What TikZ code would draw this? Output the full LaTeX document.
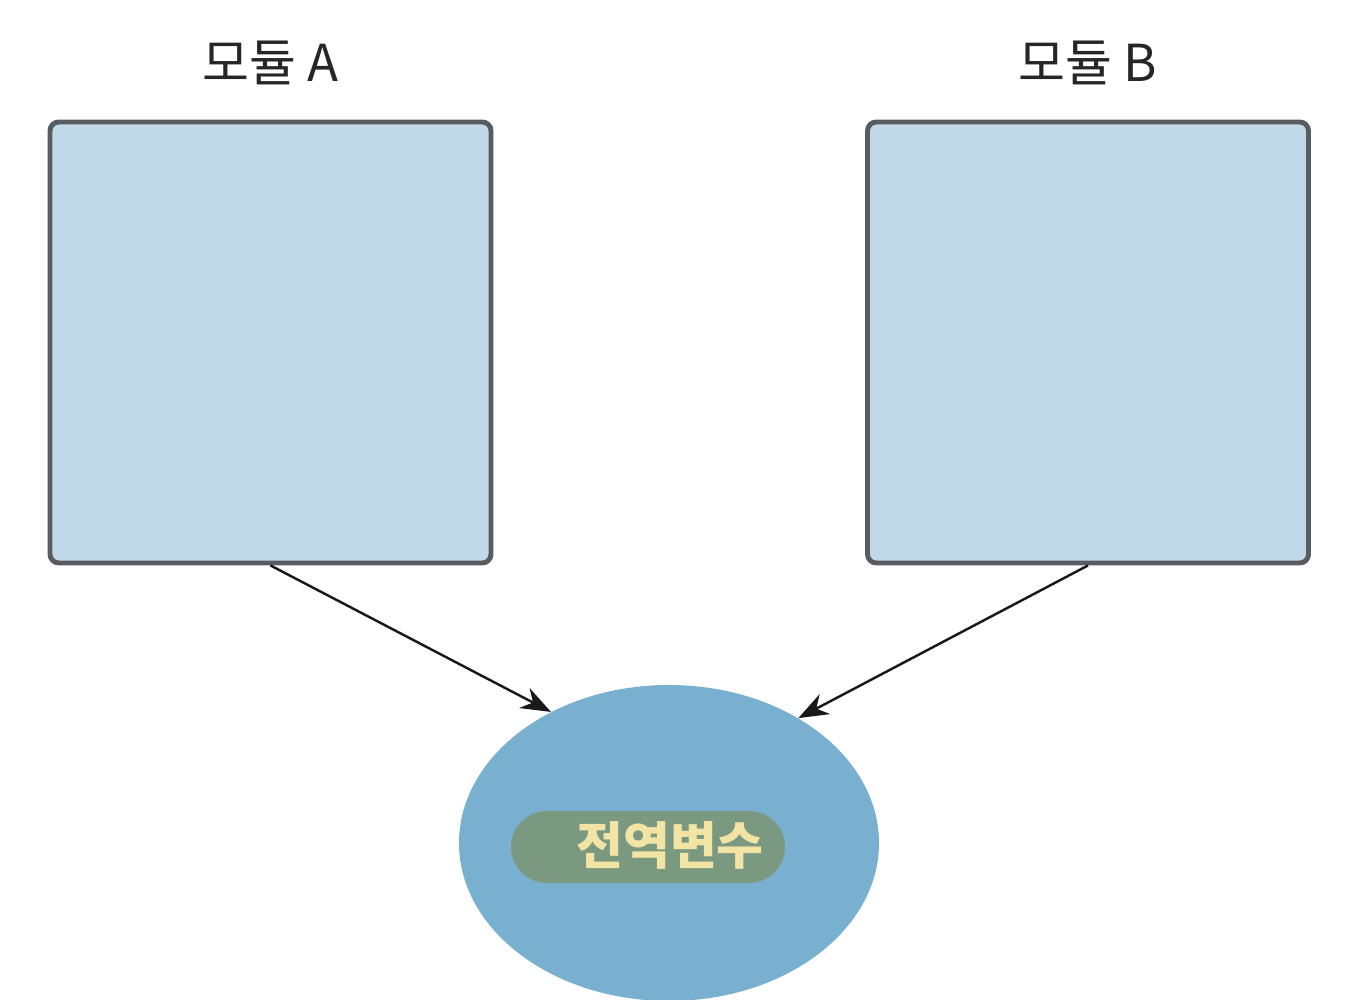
\documentclass[tikz,border=0pt]{standalone}
\usepackage{fontspec}
\setmainfont{Noto Sans CJK KR}
\usepackage{tikz}
\usetikzlibrary{arrows.meta, shapes.geometric, positioning}

\definecolor{boxblue}{RGB}{193,216,232}
\definecolor{boxline}{RGB}{88,92,97}
\definecolor{globblue}{RGB}{121,176,208}
\definecolor{pillgreen}{RGB}{122,153,128}
\definecolor{pilltext}{RGB}{242,228,165}

\tikzset{
    module/.style={draw=boxline, line width=2.8pt, fill=boxblue, rounded corners=5pt,
        minimum width=8.82cm, minimum height=8.82cm},
    modlabel/.style={font=\fontsize{29}{34}\selectfont, text=black!85},
    link/.style={-{Stealth[length=0.6cm, width=0.45cm]}, line width=1.4pt, black!90}
}

\begin{document}
\begin{tikzpicture}
    \useasboundingbox (0,0) rectangle (27.38,20);

    \node[module] (modA) at (5.41,13.15) {};
    \node[module] (modB) at (21.76,13.15) {};
    \node[modlabel] (labA) at (5.41,18.74) {모듈 A};
    \node[modlabel] (labB) at (21.76,18.74) {모듈 B};

    \node[ellipse, fill=globblue, minimum width=8.4cm, minimum height=6.32cm] (glob) at (13.38,3.14) {};
    \node[fill=pillgreen, rounded corners=0.72cm, minimum width=5.48cm, minimum height=1.44cm] (pill) at (12.96,3.06) {};
    \node[text=pilltext, font=\bfseries\fontsize{29}{34}\selectfont] (gvar) at (13.4,3.1) {전역변수};

    \draw[link] (modA.south) -- (glob.132);
    \draw[link] (modB.south) -- (glob.44);
\end{tikzpicture}
\end{document}
